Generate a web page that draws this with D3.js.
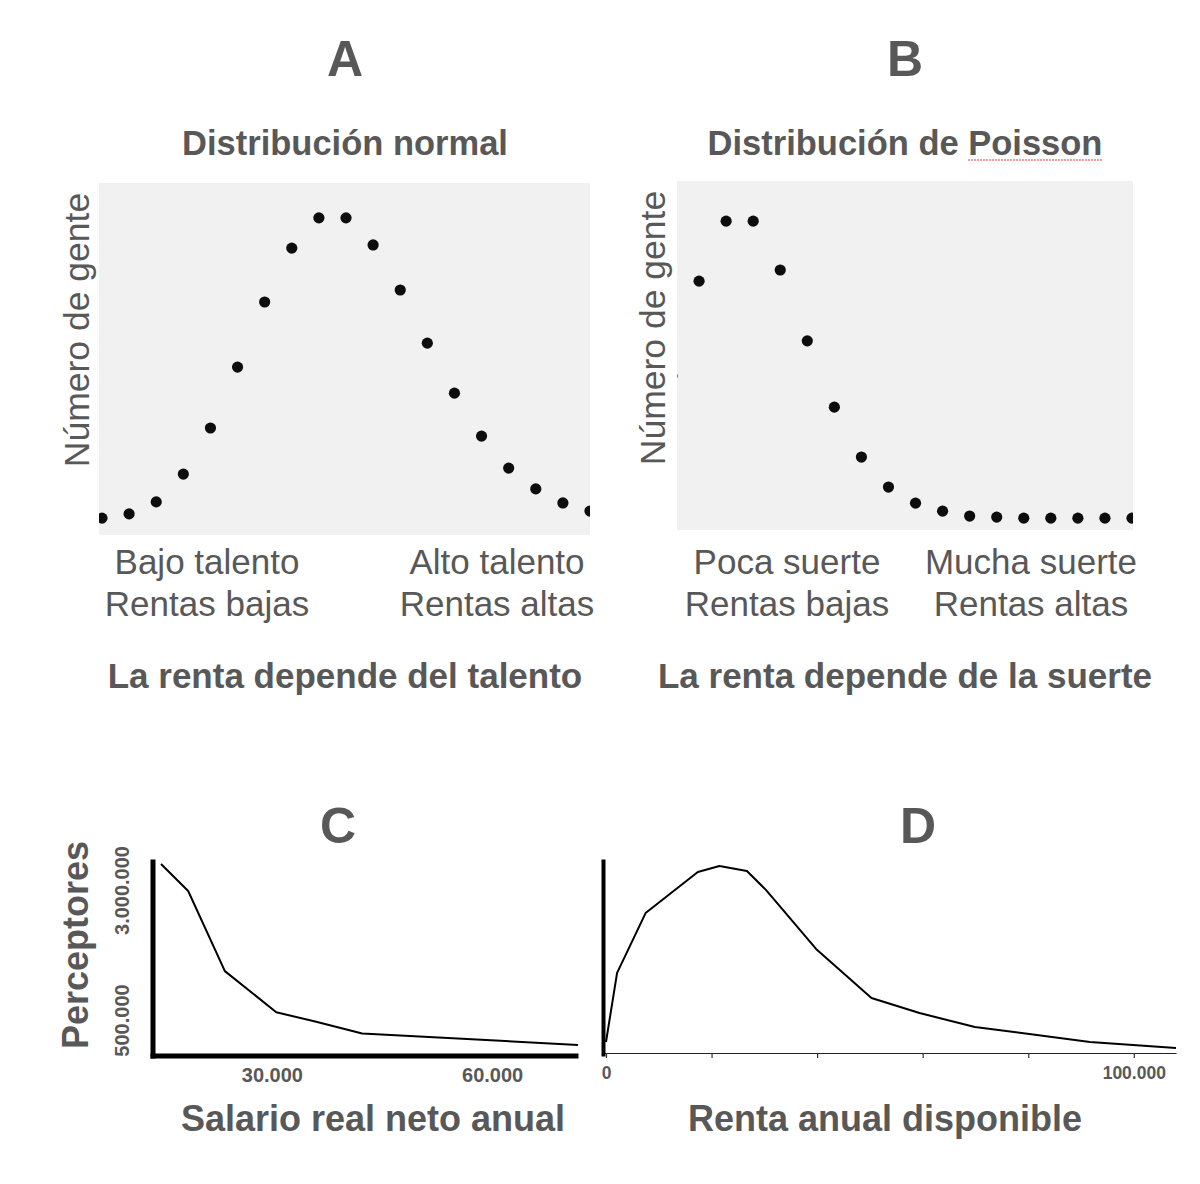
<!DOCTYPE html>
<html><head><meta charset="utf-8">
<script src="https://cdn.jsdelivr.net/npm/d3@7"></script>
<style>
body{margin:0;background:#fff}
text{font-family:"Liberation Sans",Arial,Helvetica,sans-serif;fill:#585858}
</style>
</head><body>
<svg id="c" width="1200" height="1184"></svg>
<script>
// ---------- data ----------
const panelLetters = ["A", "B", "C", "D"];
const subtitles = ["Distribución normal", "Distribución de Poisson"];
const yLabelTop = "Número de gente";
const normalValues = [4.8, 6.0, 9.4, 17.3, 30.4, 47.7, 66.2, 81.5, 90.1, 90.1, 82.4, 69.6, 54.5, 40.3, 28.1, 19.0, 13.1, 9.1, 6.8];
const poissonValues = [44.1, 71.3, 88.5, 88.5, 74.5, 54.2, 35.2, 20.9, 12.3, 7.7, 5.4, 4.0, 3.7, 3.4, 3.4, 3.4, 3.4, 3.4];
const catLabelsA = [["Bajo talento", "Rentas bajas"], ["Alto talento", "Rentas altas"]];
const catLabelsB = [["Poca suerte", "Rentas bajas"], ["Mucha suerte", "Rentas altas"]];
const captions = ["La renta depende del talento", "La renta depende de la suerte"];

const salarioX = [14900, 18600, 23600, 30600, 35900, 42300, 71700];
const salarioY = [3500000, 2980000, 1440000, 650000, 470000, 240000, 20000];
const salarioTicksX = [30000, 60000];
const salarioTicksY = [500000, 3000000];
const salarioTitleX = "Salario real neto anual";
const salarioTitleY = "Perceptores";

const rentaX = [0, 2100, 7500, 17400, 21500, 26700, 30300, 39800, 50300, 59400, 69900, 91700, 108000];
const rentaY = [5.7, 41.5, 72.5, 93.8, 96.9, 94.3, 84.5, 53.9, 28.5, 20.7, 13.5, 5.7, 2.6];
const rentaTicks = [0, 20000, 40000, 60000, 80000, 100000];
const rentaLabelled = [0, 100000];
const rentaTitleX = "Renta anual disponible";

// ---------- setup ----------
const svg = d3.select("#c");
svg.append("rect").attr("width", 1200).attr("height", 1184).attr("fill", "#fff");
const fmt = d3.formatLocale({decimal: ",", thousands: ".", grouping: [3], currency: ["", "€"]}).format(",");
const defs = svg.append("defs");
defs.append("filter").attr("id", "soft").append("feGaussianBlur").attr("stdDeviation", 0.7);

const TXT = "#585858";

function title(x, y, t, size, weight) {
  return svg.append("text").attr("x", x).attr("y", y).attr("text-anchor", "middle")
    .attr("font-size", size).attr("font-weight", weight).text(t);
}

// ---------- panels A & B (dot plots) ----------
function dotPanel(id, values, box, xr, cx, labels, caption, subtitle, letter, ylx, yly) {
  const x = d3.scaleLinear().domain([0, values.length - 1]).range(xr);
  const y = d3.scaleLinear().domain([0, 100]).range([box.y1, box.y0]);
  defs.append("clipPath").attr("id", "clip" + id).append("rect")
    .attr("x", box.x0).attr("y", box.y0).attr("width", box.x1 - box.x0).attr("height", box.y1 - box.y0);
  svg.append("rect").attr("x", box.x0).attr("y", box.y0).attr("width", box.x1 - box.x0)
    .attr("height", box.y1 - box.y0).attr("fill", "#f1f1f1");
  svg.append("g").attr("clip-path", `url(#clip${id})`)
    .selectAll("circle").data(values).join("circle")
    .attr("cx", (d, i) => x(i)).attr("cy", d => y(d)).attr("r", 5.6)
    .attr("fill", "#0d0d0d").attr("filter", "url(#soft)");
  title(cx, 76, letter, 50, "bold");
  const st = title(cx, 155, subtitle, 34.5, "bold");
  svg.append("text").attr("transform", `translate(${ylx},${yly}) rotate(-90)`)
    .attr("text-anchor", "middle").attr("font-size", 35.5).text(yLabelTop);
  labels.forEach((pair, k) => {
    pair.forEach((t, j) => title(k === 0 ? xr.lab0 : xr.lab1, 574 + j * 42, t, 35, "normal"));
  });
  title(cx, 688, caption, 35, "bold");
  return st;
}

const rA = [102, 590]; rA.lab0 = 207; rA.lab1 = 497;
dotPanel("A", normalValues, {x0: 99, x1: 590, y0: 183, y1: 535}, rA, 345,
  catLabelsA, captions[0], subtitles[0], panelLetters[0], 89, 330);
const rB = [672, 1132]; rB.lab0 = 787; rB.lab1 = 1031;
const stB = dotPanel("B", poissonValues, {x0: 677, x1: 1133, y0: 181, y1: 530}, rB, 905,
  catLabelsB, captions[1], subtitles[1], panelLetters[1], 665, 328);

// spell-check style underline under "Poisson"
(function () {
  const node = stB.node();
  const s = subtitles[1];
  const i0 = s.indexOf("Poisson");
  const p0 = node.getStartPositionOfChar(i0).x;
  const p1 = node.getEndPositionOfChar(s.length - 1).x;
  svg.append("line").attr("x1", p0).attr("x2", p1).attr("y1", 160).attr("y2", 160)
    .attr("stroke", "#e05555").attr("stroke-width", 1.5).attr("stroke-dasharray", "1.5,1.5");
})();

// ---------- panel C ----------
const xC = d3.scaleLinear().domain([13400, 71700]).range([150, 578]);
const yC = d3.scaleLinear().domain([0, 3500000]).range([1046, 864]);
title(338, 843, panelLetters[2], 50, "bold");
const gCx = svg.append("g").attr("transform", "translate(0,1055.5)")
  .call(d3.axisBottom(xC).tickValues(salarioTicksX).tickSize(0).tickSizeOuter(0).tickPadding(12).tickFormat(fmt));
gCx.select(".domain").attr("stroke", "#000").attr("stroke-width", 5);
gCx.selectAll("text").attr("font-size", 20).attr("font-weight", "bold").attr("fill", TXT)
  .style("font-family", '"Liberation Sans",Arial,sans-serif');
const yCaxis = yC.copy().domain([yC.invert(1058), yC.invert(859)]).range([1058, 859]);
const gCy = svg.append("g").attr("transform", "translate(152.5,0)")
  .call(d3.axisLeft(yCaxis).tickValues(salarioTicksY).tickSize(0).tickSizeOuter(0).tickFormat(fmt));
gCy.select(".domain").attr("stroke", "#000").attr("stroke-width", 5);
gCy.selectAll("text").attr("font-size", 20).attr("font-weight", "bold").attr("fill", TXT)
  .style("font-family", '"Liberation Sans",Arial,sans-serif')
  .attr("transform", "rotate(-90)").attr("text-anchor", "middle")
  .attr("x", 0).attr("y", -24).attr("dy", 0);
svg.append("path").datum(d3.zip(salarioX, salarioY))
  .attr("fill", "none").attr("stroke", "#000").attr("stroke-width", 2).attr("stroke-linejoin", "round")
  .attr("d", d3.line().x(d => xC(d[0])).y(d => yC(d[1])));
svg.append("text").attr("transform", "translate(88,945) rotate(-90)").attr("text-anchor", "middle")
  .attr("font-size", 36).attr("font-weight", "bold").text(salarioTitleY);
title(373, 1131, salarioTitleX, 36, "bold");

// ---------- panel D ----------
const xD = d3.scaleLinear().domain([0, 108000]).range([606, 1176]);
const yD = d3.scaleLinear().domain([0, 100]).range([1053, 860]);
title(918, 843, panelLetters[3], 50, "bold");
const xDaxis = xD.copy().domain([xD.invert(603), 108000]).range([603, 1176]);
const gDx = svg.append("g").attr("transform", "translate(0,1053)")
  .call(d3.axisBottom(xDaxis).tickValues(rentaTicks).tickSize(5).tickSizeOuter(0).tickPadding(9)
    .tickFormat(d => rentaLabelled.includes(d) ? fmt(d) : ""));
gDx.select(".domain").attr("stroke", "#222").attr("stroke-width", 1.2);
gDx.selectAll(".tick line").attr("stroke", "#333").attr("stroke-width", 1.2);
gDx.selectAll("text").attr("font-size", 17.5).attr("font-weight", "bold").attr("fill", TXT)
  .style("font-family", '"Liberation Sans",Arial,sans-serif');
const yDaxis = yD.copy().domain([yD.invert(1056), yD.invert(859)]).range([1056, 859]);
const gDy = svg.append("g").attr("transform", "translate(603,0)")
  .call(d3.axisLeft(yDaxis).tickValues([]).tickSize(0).tickSizeOuter(0));
gDy.select(".domain").attr("stroke", "#000").attr("stroke-width", 4);
svg.append("path").datum(d3.zip(rentaX, rentaY))
  .attr("fill", "none").attr("stroke", "#000").attr("stroke-width", 2).attr("stroke-linejoin", "round")
  .attr("d", d3.line().x(d => xD(d[0])).y(d => yD(d[1])));
title(885, 1131, rentaTitleX, 36, "bold");
</script>
</body></html>
